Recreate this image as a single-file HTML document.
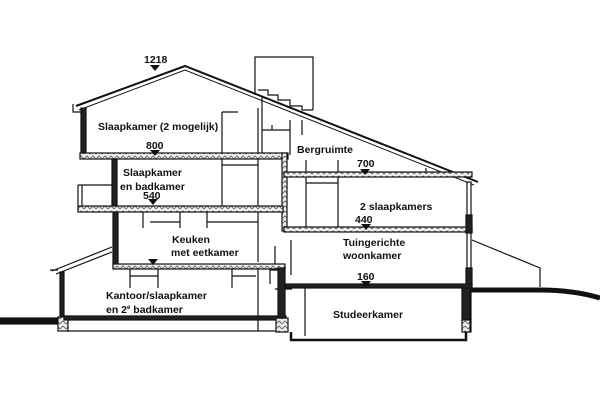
<!DOCTYPE html>
<html><head><meta charset="utf-8"><style>
html,body{margin:0;padding:0;background:#fff;}
svg{display:block}
text{font-family:"Liberation Sans","DejaVu Sans",sans-serif;font-weight:bold;font-size:10.5px;fill:#111}
</style></head><body>
<svg width="600" height="400" viewBox="0 0 600 400" xmlns="http://www.w3.org/2000/svg">
<defs>
<pattern id="h" width="6" height="5" patternUnits="userSpaceOnUse">
<rect width="6" height="5" fill="#eee"/><path d="M0 4 L3 1 L6 4" stroke="#555" stroke-width="0.8" fill="none"/>
</pattern>
</defs>
<g stroke="#111" fill="none" stroke-width="1.2">
<path d="M255 95 V57 H313 V110"/>
<path d="M258 90 H268 V95 H278 V100 H290 V106 H302 V110 H313"/>
<path d="M76 106 L185 66 L478 182" stroke-width="2"/>
<path d="M79 110 L185 70 L474 185" stroke-width="1"/>
<path d="M73 104 V112 H86"/>
<rect x="81" y="108" width="5" height="48" fill="#222"/>
<path d="M222 112 V155 M222 112 H238 M258 108 V155 M262 96 V155 M262 130 H290 M290 120 V155 M272 125 V130 M302 120 V135"/>
<rect x="80" y="153" width="208" height="6" fill="url(#h)"/>
<rect x="112" y="159" width="5" height="50" fill="#222"/>
<path d="M258 159 V208 M222 159 V208 M222 165 H258"/>
<rect x="282" y="153" width="5" height="78" fill="url(#h)"/>
<path d="M78 185 H112 M78 185 V212 M82 185 V210"/>
<rect x="78" y="206" width="205" height="6" fill="url(#h)"/>
<rect x="284" y="172" width="188" height="5" fill="url(#h)"/>
<path d="M306 177 V229 M338 177 V229 M306 183 H338 M306 160 V172 M338 160 V172 M426 168 V172"/>
<rect x="284" y="227" width="188" height="5" fill="url(#h)"/>
<rect x="467" y="182" width="4" height="150" fill="#fff"/>
<rect x="466" y="215" width="6" height="18" fill="#222"/>
<rect x="466" y="268" width="6" height="18" fill="#222"/>
<path d="M472 240 L540 268 V287"/>
<rect x="113" y="212" width="5" height="55" fill="#222"/>
<path d="M143 212 V228 M180 212 V228 M207 212 V228 M258 212 V262 M207 222 H258 M150 222 H180"/>
<path d="M275 246 V266 M291 240 V275"/>
<rect x="113" y="264" width="172" height="5" fill="url(#h)"/>
<path d="M130 269 V288 M158 269 V288 M130 276 H158 M232 269 V288 M232 276 H256 M258 269 V320"/>
<path d="M52 271 L112 247 M56 274 L112 252 M50 270 H58"/>
<rect x="60" y="272" width="4" height="48" fill="#222"/>
<rect x="284" y="284" width="188" height="4" fill="#222"/>
<path d="M270 284 V270 H285 M275 289 H292"/>
<rect x="0" y="318" width="62" height="6" fill="#111"/>
<rect x="58" y="317" width="10" height="14" fill="url(#h)"/>
<rect x="64" y="316" width="222" height="4" fill="#222"/>
<path d="M66 331 H285 M258 320 V331"/>
<rect x="276" y="318" width="12" height="14" fill="url(#h)"/>
<rect x="278" y="268" width="7" height="50" fill="#222"/>
<path d="M291 332 V340 H466 V332" stroke-width="2.5"/>
<path d="M305 288 V336"/>
<rect x="462" y="288" width="8" height="32" fill="#222"/>
<rect x="462" y="320" width="8" height="12" fill="url(#h)"/>
<path d="M470 290 H540 C560 290 580 292 600 298" stroke-width="5"/>
</g>
<g fill="#111">
<path d="M150 65 H160 L155 71 Z"/>
<path d="M150 150 H160 L155 156 Z"/>
<path d="M360 169 H370 L365 175 Z"/>
<path d="M148 199 H158 L153 205 Z"/>
<path d="M361 224 H371 L366 230 Z"/>
<path d="M148 259 H158 L153 265 Z"/>
<path d="M361 281 H371 L366 287 Z"/>
</g>
<g>
<text x="144" y="63" font-weight="normal">1218</text>
<text x="98" y="130">Slaapkamer (2 mogelijk)</text>
<text x="146" y="149" font-weight="normal">800</text>
<text x="297" y="153">Bergruimte</text>
<text x="357" y="167" font-weight="normal">700</text>
<text x="123" y="176">Slaapkamer</text>
<text x="120" y="190">en badkamer</text>
<text x="143" y="199" font-weight="normal">540</text>
<text x="360" y="210">2 slaapkamers</text>
<text x="355" y="223" font-weight="normal">440</text>
<text x="172" y="243">Keuken</text>
<text x="171" y="256">met eetkamer</text>
<text x="343" y="246">Tuingerichte</text>
<text x="343" y="259">woonkamer</text>
<text x="357" y="280" font-weight="normal">160</text>
<text x="106" y="299">Kantoor/slaapkamer</text>
<text x="106" y="313">en 2<tspan font-size="6" dy="-4">e</tspan><tspan dy="4"> badkamer</tspan></text>
<text x="333" y="318">Studeerkamer</text>
</g>
</svg>
</body></html>
